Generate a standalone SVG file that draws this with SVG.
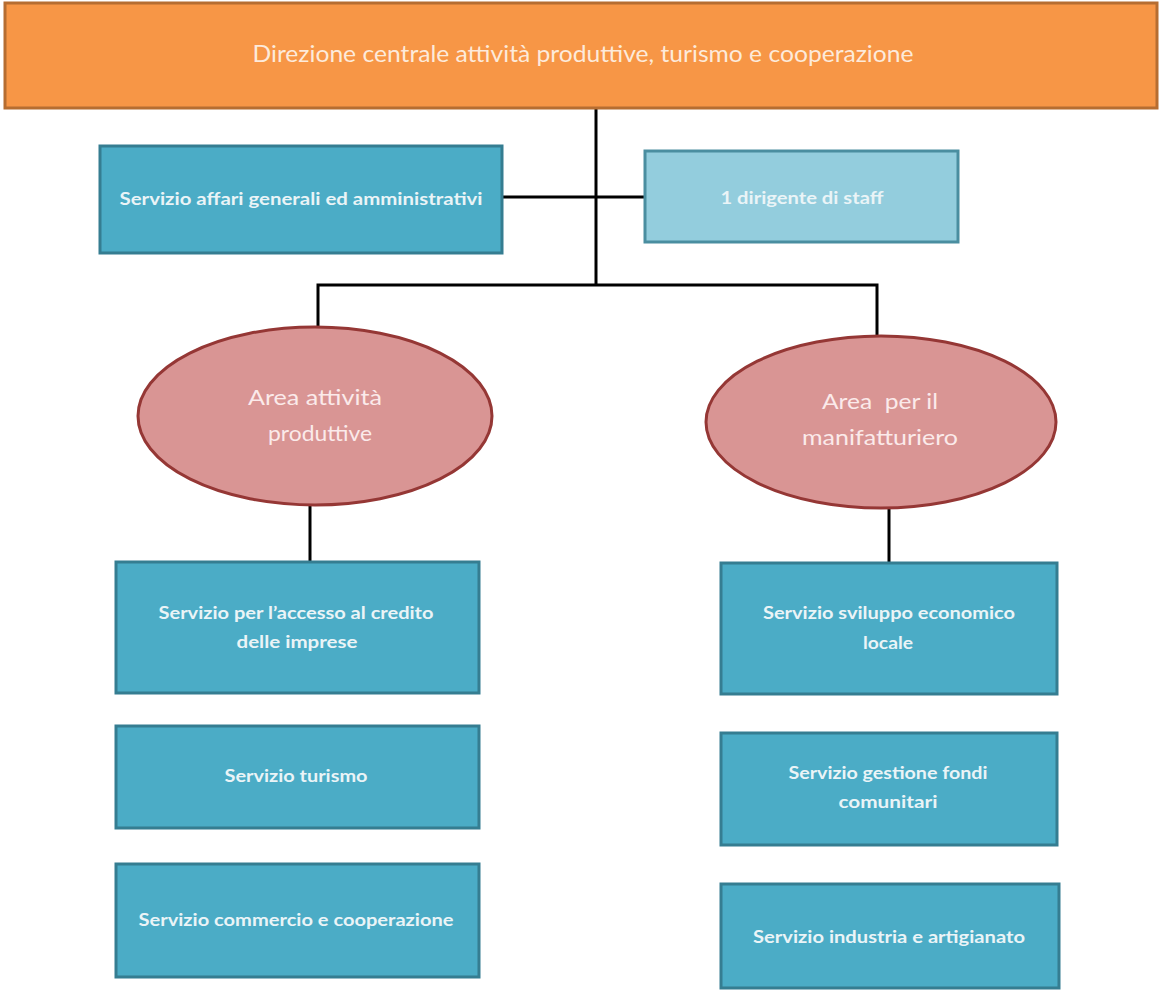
<svg xmlns="http://www.w3.org/2000/svg" width="1162" height="990" viewBox="0 0 1162 990">
  <style>
    .head { fill: #f79646; stroke: #b66d31; stroke-width: 3; }
    .head-t { fill: #fdeada; font-family: Lato, "Open Sans", "Liberation Sans", sans-serif; font-size: 23px; text-anchor: middle; }
    .svc { fill: #4bacc6; stroke: #357d91; stroke-width: 3; }
    .staff { fill: #93cddd; stroke: #4a8ea0; stroke-width: 3; }
    .svc-t { fill: #eaf4f7; font-family: Lato, "Open Sans", "Liberation Sans", sans-serif; font-weight: bold; font-size: 16.5px; text-anchor: middle; }
    .area { fill: #d99594; stroke: #953735; stroke-width: 3; }
    .area-t { fill: #fbeaea; font-family: Lato, "Open Sans", "Liberation Sans", sans-serif; font-size: 22px; text-anchor: middle; }
    .link { stroke: #000; stroke-width: 3; fill: none; }
  </style>

  <rect width="1162" height="990" fill="#ffffff"/>

  <!-- connectors -->
  <g id="connectors">
    <line class="link" x1="596" y1="108" x2="596" y2="285"/>
    <line class="link" x1="502" y1="197" x2="645" y2="197"/>
    <polyline class="link" points="318,328 318,285 877,285 877,337"/>
    <line class="link" x1="310" y1="506" x2="310" y2="562"/>
    <line class="link" x1="889" y1="508" x2="889" y2="562"/>
  </g>

  <g id="direzione">
    <rect class="head" x="5" y="3" width="1152" height="105"/>
    <text class="head-t" x="583" y="62" textLength="661" lengthAdjust="spacingAndGlyphs">Direzione centrale attività produttive, turismo e cooperazione</text>
  </g>

  <g id="affari-generali">
    <rect class="svc" x="100" y="146" width="402" height="107"/>
    <text class="svc-t" x="301" y="205" textLength="363" lengthAdjust="spacingAndGlyphs">Servizio affari generali ed amministrativi</text>
  </g>

  <g id="dirigente-staff">
    <rect class="staff" x="645" y="151" width="313" height="91"/>
    <text class="svc-t" x="802" y="204" textLength="163" lengthAdjust="spacingAndGlyphs">1 dirigente di staff</text>
  </g>

  <g id="area-attivita">
    <ellipse class="area" cx="315" cy="416" rx="177" ry="89"/>
    <text class="area-t" x="315" y="405" textLength="134" lengthAdjust="spacingAndGlyphs">Area attività</text>
    <text class="area-t" x="320" y="441" textLength="104" lengthAdjust="spacingAndGlyphs">produttive</text>
  </g>

  <g id="area-manifatturiero">
    <ellipse class="area" cx="881" cy="422" rx="175" ry="86"/>
    <text class="area-t" x="880" y="409" textLength="116" lengthAdjust="spacingAndGlyphs" xml:space="preserve">Area  per il</text>
    <text class="area-t" x="880" y="445" textLength="156" lengthAdjust="spacingAndGlyphs">manifatturiero</text>
  </g>

  <g id="accesso-credito">
    <rect class="svc" x="116" y="562" width="363" height="131"/>
    <text class="svc-t" x="296" y="619" textLength="275" lengthAdjust="spacingAndGlyphs">Servizio per l’accesso al credito</text>
    <text class="svc-t" x="297" y="648" textLength="121" lengthAdjust="spacingAndGlyphs">delle imprese</text>
  </g>

  <g id="turismo">
    <rect class="svc" x="116" y="726" width="363" height="102"/>
    <text class="svc-t" x="296" y="782" textLength="143" lengthAdjust="spacingAndGlyphs">Servizio turismo</text>
  </g>

  <g id="commercio">
    <rect class="svc" x="116" y="864" width="363" height="113"/>
    <text class="svc-t" x="296" y="926" textLength="315" lengthAdjust="spacingAndGlyphs">Servizio commercio e cooperazione</text>
  </g>

  <g id="sviluppo-economico">
    <rect class="svc" x="721" y="563" width="336" height="131"/>
    <text class="svc-t" x="889" y="619" textLength="252" lengthAdjust="spacingAndGlyphs">Servizio sviluppo economico</text>
    <text class="svc-t" x="888" y="649" textLength="50" lengthAdjust="spacingAndGlyphs">locale</text>
  </g>

  <g id="fondi-comunitari">
    <rect class="svc" x="721" y="733" width="336" height="112"/>
    <text class="svc-t" x="888" y="779" textLength="199" lengthAdjust="spacingAndGlyphs">Servizio gestione fondi</text>
    <text class="svc-t" x="888" y="808" textLength="99" lengthAdjust="spacingAndGlyphs">comunitari</text>
  </g>

  <g id="industria-artigianato">
    <rect class="svc" x="721" y="884" width="338" height="104"/>
    <text class="svc-t" x="889" y="943" textLength="272" lengthAdjust="spacingAndGlyphs">Servizio industria e artigianato</text>
  </g>
</svg>
